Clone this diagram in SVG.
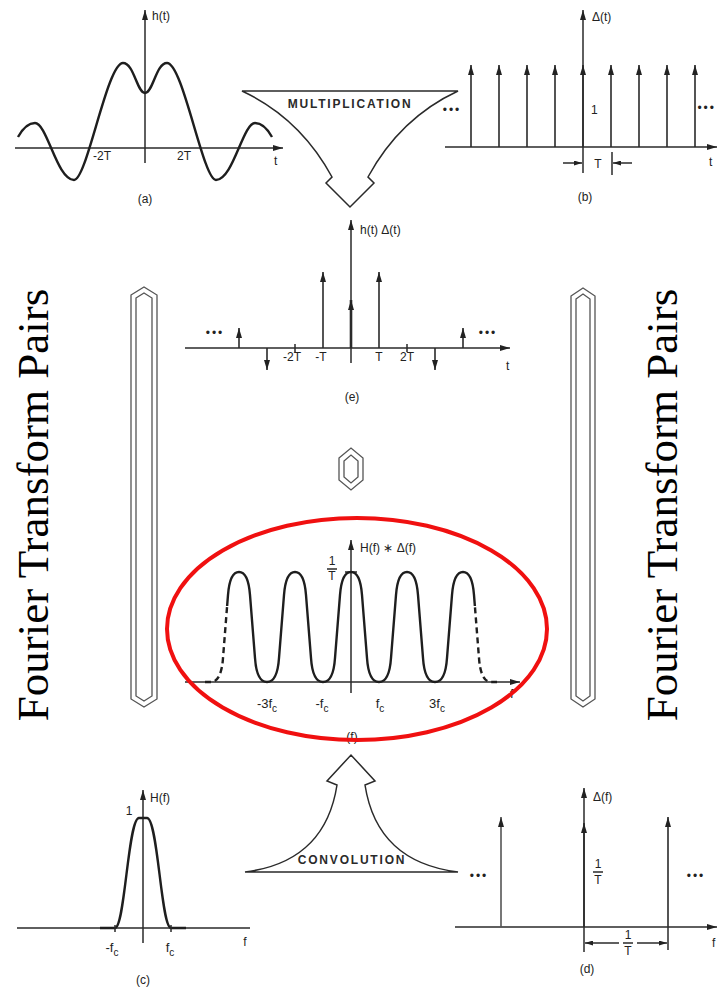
<svg xmlns="http://www.w3.org/2000/svg" width="717" height="987" viewBox="0 0 717 987">
<style>
.ln{stroke:#2a2a2a;stroke-width:1.5;fill:none}
.imp{stroke:#2a2a2a;stroke-width:1.6;fill:none}
.crv{stroke:#1e1e1e;stroke-width:2.4;fill:none;stroke-linejoin:round}
.lb{font-family:"Liberation Sans",Arial,sans-serif;font-size:12px;fill:#222}
.lbm{font-family:"Liberation Sans",Arial,sans-serif;font-size:13px;fill:#222}
.op{font-family:"Liberation Sans",Arial,sans-serif;font-size:12px;font-weight:bold;fill:#2a2a2a;letter-spacing:1.8px}
.dots{font-family:"Liberation Sans",Arial,sans-serif;font-size:12px;fill:#222;letter-spacing:2px}
.big{font-family:"Liberation Serif","Times New Roman",serif;font-size:45px;fill:#000}
.bar{fill:#fff;stroke:#555;stroke-width:1.3}
.shape{fill:#fff;stroke:#2a2a2a;stroke-width:1.5;stroke-linejoin:miter}
</style>
<defs>
<marker id="ah" viewBox="0 0 10 6" refX="10" refY="3" markerWidth="10" markerHeight="6" orient="auto" markerUnits="userSpaceOnUse"><path d="M0,0 L10,3 L0,6 z" fill="#222"/></marker>
<marker id="ahs" viewBox="0 0 8 5" refX="8" refY="2.5" markerWidth="8" markerHeight="5" orient="auto" markerUnits="userSpaceOnUse"><path d="M0,0 L8,2.5 L0,5 z" fill="#222"/></marker>
<clipPath id="cTop"><rect x="0" y="500" width="717" height="106"/></clipPath>
<clipPath id="cBot"><rect x="0" y="606" width="717" height="100"/></clipPath>
</defs>

<g id="label-left"><text class="big" text-anchor="middle" transform="translate(48,505) rotate(-90)">Fourier Transform Pairs</text></g>
<g id="label-right"><text class="big" text-anchor="middle" transform="translate(677,505) rotate(-90)">Fourier Transform Pairs</text></g>

<g id="panel-a">
<line class="ln" x1="15" y1="148" x2="283" y2="148" marker-end="url(#ah)"/>
<line class="ln" x1="145" y1="163" x2="145" y2="10" marker-end="url(#ah)"/>
<path class="crv" d="M18,137 C23,128 28,123 35,123 C47,123 57,180 74,180 C87,180 107,63 123,63 C134,63 137,93 145,93 C153,93 156,63 167,63 C183,63 203,180 216,180 C233,180 243,123 255,123 C262,123 267,128 272,137"/>
<text class="lb" x="152" y="20">h(t)</text>
<text class="lb" x="93" y="160">-2T</text>
<text class="lb" x="177" y="160">2T</text>
<text class="lb" x="274" y="165">t</text>
<text class="lb" x="145" y="203" text-anchor="middle">(a)</text>
</g>

<g id="panel-b">
<line class="ln" x1="445" y1="147" x2="717" y2="147" marker-end="url(#ah)"/>
<line class="ln" x1="583" y1="173" x2="583" y2="10" marker-end="url(#ah)"/>
<g class="imp">
<line x1="471" y1="147" x2="471" y2="65" marker-end="url(#ah)"/>
<line x1="499" y1="147" x2="499" y2="65" marker-end="url(#ah)"/>
<line x1="527" y1="147" x2="527" y2="65" marker-end="url(#ah)"/>
<line x1="555" y1="147" x2="555" y2="65" marker-end="url(#ah)"/>
<line x1="583" y1="147" x2="583" y2="65" marker-end="url(#ah)"/>
<line x1="611" y1="147" x2="611" y2="65" marker-end="url(#ah)"/>
<line x1="639" y1="147" x2="639" y2="65" marker-end="url(#ah)"/>
<line x1="667" y1="147" x2="667" y2="65" marker-end="url(#ah)"/>
<line x1="695" y1="147" x2="695" y2="65" marker-end="url(#ah)"/>
</g>
<line class="ln" x1="563" y1="163" x2="582" y2="163" marker-end="url(#ahs)"/>
<line class="ln" x1="612" y1="152" x2="612" y2="175"/>
<line class="ln" x1="632" y1="163" x2="613" y2="163" marker-end="url(#ahs)"/>
<text class="lb" x="592" y="21">Δ(t)</text>
<text class="lb" x="591" y="114">1</text>
<text class="lb" x="598" y="168" text-anchor="middle">T</text>
<text class="lb" x="709" y="166">t</text>
<text class="lb" x="585" y="201" text-anchor="middle">(b)</text>
<text class="dots" x="452" y="114" text-anchor="middle">•••</text>
<text class="dots" x="716" y="112" text-anchor="end" letter-spacing="1">•••</text>
</g>

<g id="panel-e">
<line class="ln" x1="185" y1="348" x2="510" y2="348" marker-end="url(#ah)"/>
<line class="ln" x1="351" y1="363" x2="351" y2="220" marker-end="url(#ah)"/>
<g class="imp">
<line x1="239" y1="348" x2="239" y2="328" marker-end="url(#ah)"/>
<line x1="267" y1="348" x2="267" y2="370" marker-end="url(#ah)"/>
<line x1="323" y1="348" x2="323" y2="272" marker-end="url(#ah)"/>
<line x1="351" y1="348" x2="351" y2="300" marker-end="url(#ah)" stroke-width="2.6"/>
<line x1="379" y1="348" x2="379" y2="272" marker-end="url(#ah)"/>
<line x1="435" y1="348" x2="435" y2="370" marker-end="url(#ah)"/>
<line x1="463" y1="348" x2="463" y2="328" marker-end="url(#ah)"/>
</g>
<line class="ln" x1="295" y1="344" x2="295" y2="352"/>
<line class="ln" x1="407" y1="344" x2="407" y2="352"/>
<text class="lb" x="360" y="234">h(t) Δ(t)</text>
<text class="lb" x="292" y="361" text-anchor="middle">-2T</text>
<text class="lb" x="321" y="361" text-anchor="middle">-T</text>
<text class="lb" x="379" y="361" text-anchor="middle">T</text>
<text class="lb" x="407" y="361" text-anchor="middle">2T</text>
<text class="lb" x="506" y="370">t</text>
<text class="lb" x="352" y="401" text-anchor="middle">(e)</text>
<text class="dots" x="215" y="337" text-anchor="middle">•••</text>
<text class="dots" x="488" y="337" text-anchor="middle">•••</text>
</g>

<g id="panel-f">
<line class="ln" x1="185" y1="682" x2="520" y2="682" marker-end="url(#ah)"/>
<line class="ln" x1="351" y1="693" x2="351" y2="540" marker-end="url(#ah)"/>
<line class="ln" x1="345" y1="572" x2="357" y2="572" stroke-width="2.5"/>
<path class="crv" d="M239,572 C246,572 249,582 250,595 L255,658 C256,673 260,682 267,682 C274,682 278,673 279,658 L284,595 C285,582 288,572 295,572 C302,572 305,582 306,595 L311,658 C312,673 316,682 323,682 C330,682 334,673 335,658 L340,595 C341,582 344,572 351,572 C358,572 361,582 362,595 L367,658 C368,673 372,682 379,682 C386,682 390,673 391,658 L396,595 C397,582 400,572 407,572 C414,572 417,582 418,595 L423,658 C424,673 428,682 435,682 C442,682 446,673 447,658 L452,595 C453,582 456,572 463,572"/>
<path class="crv" clip-path="url(#cTop)" d="M211,682 C218,682 222,673 223,658 L228,595 C229,582 232,572 239,572"/>
<path class="crv" clip-path="url(#cBot)" stroke-dasharray="6 4" d="M205,682 L211,682 C218,682 222,673 223,658 L228,595 C229,582 232,572 239,572"/>
<path class="crv" clip-path="url(#cTop)" d="M463,572 C470,572 473,582 474,595 L479,658 C480,673 484,682 491,682"/>
<path class="crv" clip-path="url(#cBot)" stroke-dasharray="6 4" d="M463,572 C470,572 473,582 474,595 L479,658 C480,673 484,682 491,682 L497,682"/>
<text class="lb" x="360" y="552">H(f) ∗ Δ(f)</text>
<text class="lb" x="332" y="565" text-anchor="middle" font-size="9">1</text>
<line class="ln" x1="327" y1="569" x2="337" y2="569" stroke-width="1"/>
<text class="lb" x="332" y="580" text-anchor="middle" font-size="9">T</text>
<text class="lbm" x="267" y="708" text-anchor="middle">-3f<tspan font-size="10" dy="4">c</tspan></text>
<text class="lbm" x="322" y="708" text-anchor="middle">-f<tspan font-size="10" dy="4">c</tspan></text>
<text class="lbm" x="380" y="708" text-anchor="middle">f<tspan font-size="10" dy="4">c</tspan></text>
<text class="lbm" x="437" y="708" text-anchor="middle">3f<tspan font-size="10" dy="4">c</tspan></text>
<text class="lbm" x="510" y="698">f</text>
<text class="lb" x="352" y="741" text-anchor="middle">(f)</text>
</g>

<g id="panel-c">
<line class="ln" x1="17" y1="928" x2="250" y2="928"/>
<line class="ln" x1="143" y1="943" x2="143" y2="790" marker-end="url(#ah)"/>
<path class="crv" d="M100,928 L115,928 C125,928 128,818 139,818 L147,818 C158,818 161,928 171,928 L186,928"/>
<line class="ln" x1="115" y1="925" x2="115" y2="932"/>
<line class="ln" x1="171" y1="925" x2="171" y2="932"/>
<text class="lb" x="150" y="802">H(f)</text>
<text class="lb" x="129" y="815" text-anchor="middle">1</text>
<text class="lbm" x="112" y="952" text-anchor="middle">-f<tspan font-size="10" dy="4">c</tspan></text>
<text class="lbm" x="170" y="952" text-anchor="middle">f<tspan font-size="10" dy="4">c</tspan></text>
<text class="lb" x="245" y="946" text-anchor="middle">f</text>
<text class="lb" x="143" y="984" text-anchor="middle">(c)</text>
</g>

<g id="panel-d">
<line class="ln" x1="455" y1="927" x2="717" y2="927" marker-end="url(#ah)"/>
<line class="ln" x1="584" y1="952" x2="584" y2="788" marker-end="url(#ah)"/>
<g class="imp">
<line x1="501" y1="927" x2="501" y2="817" marker-end="url(#ah)" stroke="#555"/>
<line x1="584" y1="927" x2="584" y2="823" marker-end="url(#ah)"/>
<line x1="668" y1="927" x2="668" y2="817" marker-end="url(#ah)"/>
</g>
<line class="ln" x1="668" y1="927" x2="668" y2="950"/>
<line class="ln" x1="619" y1="943" x2="585" y2="943" marker-end="url(#ahs)"/>
<line class="ln" x1="637" y1="943" x2="667" y2="943" marker-end="url(#ahs)"/>
<text class="lb" x="628" y="939" text-anchor="middle" font-size="10">1</text>
<line class="ln" x1="623" y1="943" x2="633" y2="943" stroke-width="1"/>
<text class="lb" x="628" y="955" text-anchor="middle" font-size="10">T</text>
<text class="lb" x="593" y="801">Δ(f)</text>
<text class="lb" x="598" y="868" text-anchor="middle" font-size="10">1</text>
<line class="ln" x1="593" y1="872" x2="603" y2="872" stroke-width="1"/>
<text class="lb" x="598" y="884" text-anchor="middle" font-size="10">T</text>
<text class="lb" x="712" y="947">f</text>
<text class="lb" x="587" y="973" text-anchor="middle">(d)</text>
<text class="dots" x="479" y="880" text-anchor="middle">•••</text>
<text class="dots" x="696" y="880" text-anchor="middle">•••</text>
</g>

<g id="connectors">
<g id="op-multiplication">
<path class="shape" d="M242,91 L458,91 Q400,118 368,177 L374,183 L350,207 L326,183 L332,177 Q300,118 242,91 Z"/>
<text class="op" x="350" y="108" text-anchor="middle">MULTIPLICATION</text>
</g>
<g id="op-convolution">
<path class="shape" d="M245,872 L458,872 Q377,862 365,785 L375,781 L351,755 L327,781 L337,785 Q325,862 245,872 Z"/>
<text class="op" x="352" y="864" text-anchor="middle">CONVOLUTION</text>
</g>
<g id="bar-left">
<polygon class="bar" points="131,295 144,287 157,295 157,699 144,707 131,699"/>
<polygon class="bar" points="136,298 144,293 152,298 152,696 144,701 136,696"/>
</g>
<g id="bar-right">
<polygon class="bar" points="571,296 583,288 595,296 595,699 583,707 571,699"/>
<polygon class="bar" points="576,299 583,294 590,299 590,696 583,701 576,696"/>
</g>
<g id="center-symbol">
<polygon class="bar" points="339,458 351,448 363,458 363,480 351,490 339,480"/>
<polygon class="bar" points="344,461 351,455 358,461 358,477 351,483 344,477"/>
</g>
</g>

<g id="highlight">
<ellipse cx="357" cy="629" rx="190" ry="111" fill="none" stroke="#f01010" stroke-width="4"/>
</g>
</svg>
